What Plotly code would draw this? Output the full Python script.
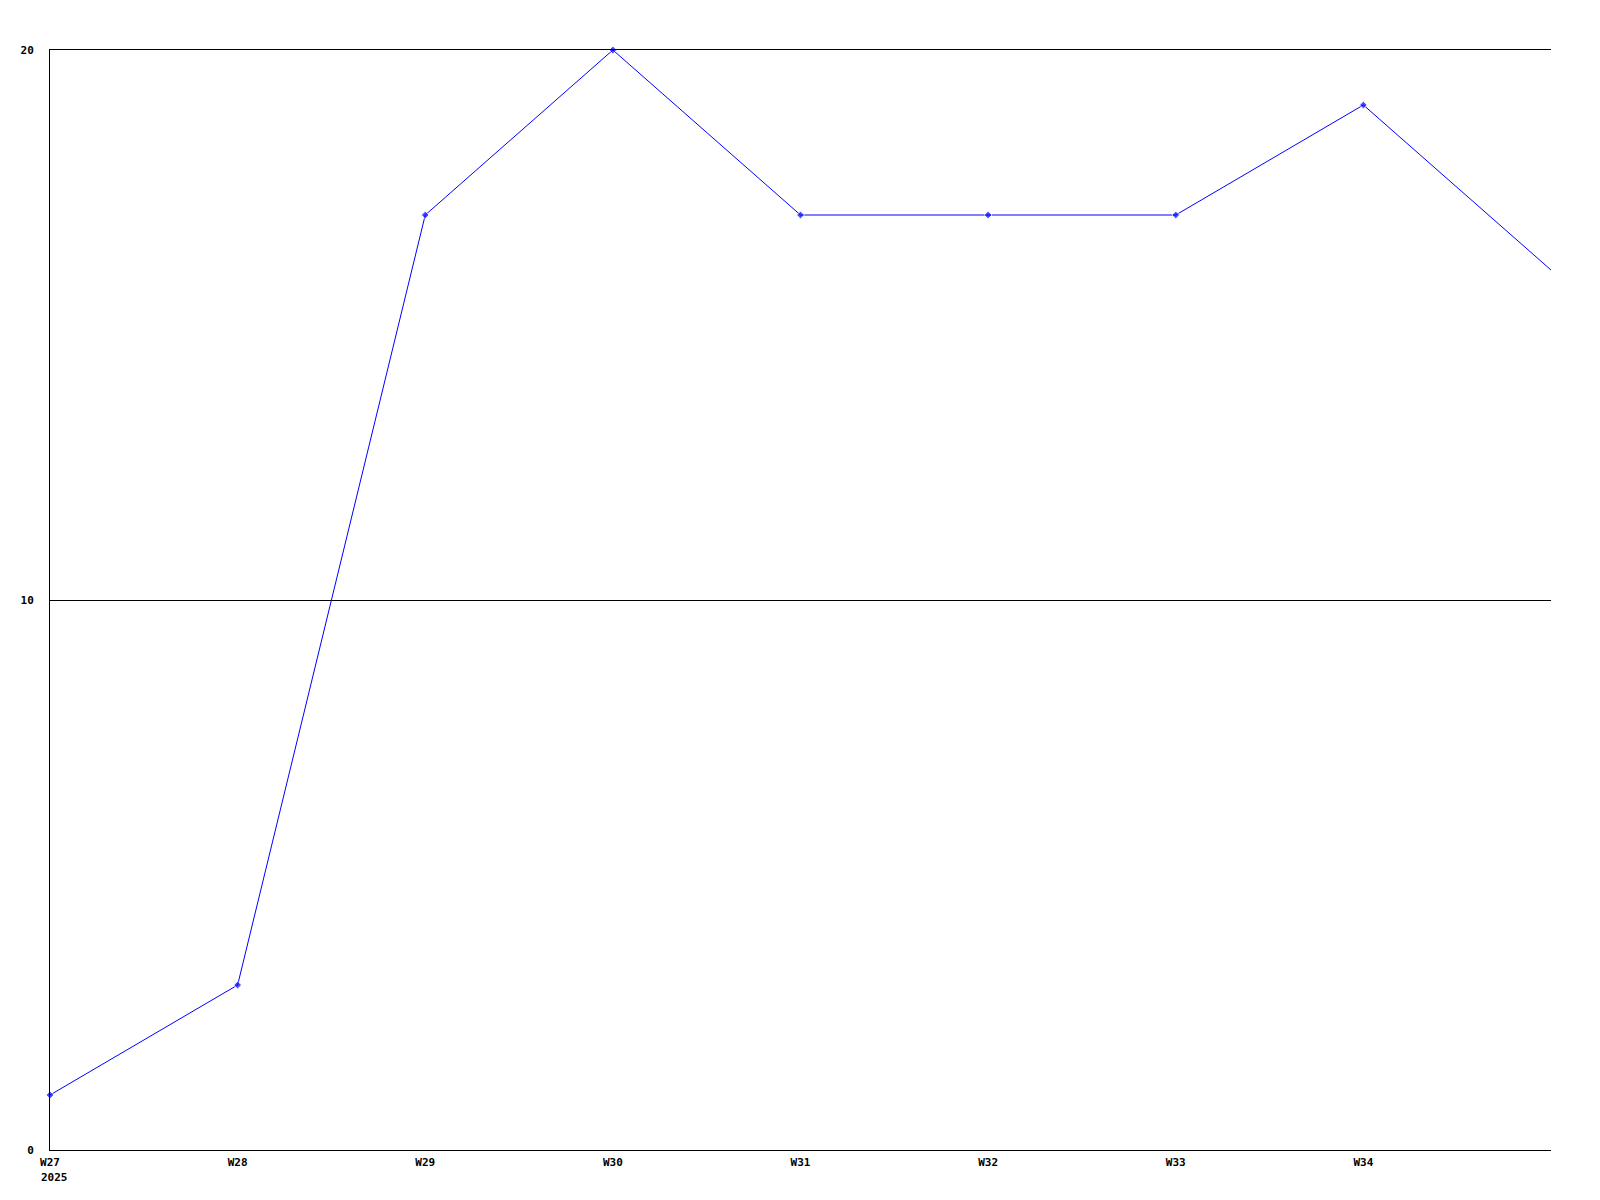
import plotly.graph_objects as go

weeks = ["W27", "W28", "W29", "W30", "W31", "W32", "W33", "W34", "W35"]
values = [1, 3, 17, 20, 17, 17, 17, 19, 16]
tick_weeks = ["W27", "W28", "W29", "W30", "W31", "W32", "W33", "W34"]
y_ticks = [0, 10, 20]
year_label = "2025"

font = dict(family="DejaVu Sans Mono", size=11, color="black", weight="bold")

marker_sizes = [6] * (len(weeks) - 1) + [0]

fig = go.Figure()
fig.add_trace(go.Scatter(
    x=weeks, y=values, mode="lines+markers",
    line=dict(color="#0000ff", width=1),
    marker=dict(symbol="diamond", size=marker_sizes, color="#0000ff"),
    cliponaxis=False, hoverinfo="skip",
))

fig.update_layout(
    width=1600, height=1200,
    margin=dict(l=50, r=49, t=50, b=50),
    paper_bgcolor="white", plot_bgcolor="white",
    showlegend=False,
    xaxis=dict(
        type="category", categoryorder="array", categoryarray=weeks,
        range=[0, len(weeks) - 1],
        tickmode="array", tickvals=tick_weeks, ticktext=tick_weeks,
        showgrid=False, zeroline=False,
        showline=True, linecolor="black", linewidth=1, mirror=True,
        ticks="", tickfont=font, ticklabelstandoff=2, automargin=False,
    ),
    yaxis=dict(
        range=[0, 20], tickmode="array", tickvals=y_ticks,
        showgrid=True, gridcolor="black", gridwidth=1,
        zeroline=False,
        showline=True, linecolor="black", linewidth=1,
        ticks="", tickfont=font, ticklabelstandoff=13, automargin=False,
    ),
    annotations=[dict(
        text=year_label, xref="paper", yref="paper", x=0, y=0,
        xanchor="left", yanchor="middle", xshift=-11, yshift=-27,
        showarrow=False, font=font,
    )],
)

fig.write_html(
    "out.html",
    config={"displayModeBar": False},
    post_script="document.body.style.margin='0';document.body.style.overflow='hidden';",
)
